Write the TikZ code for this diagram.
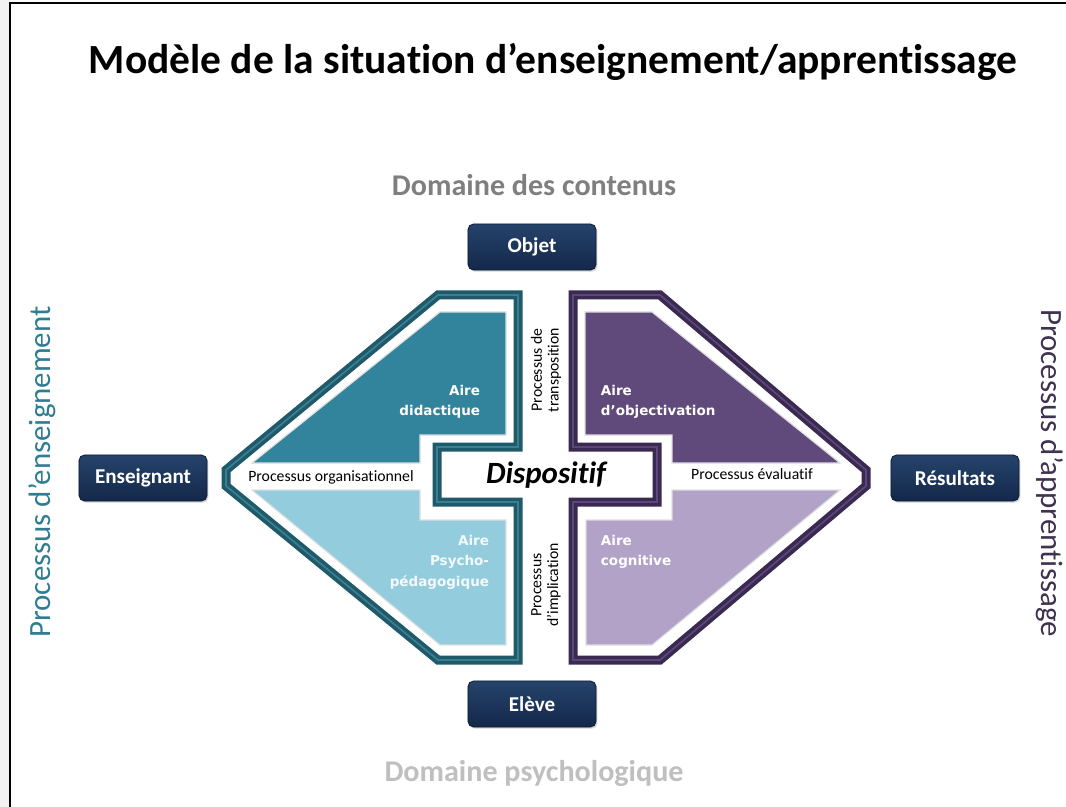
\documentclass[tikz,border=0pt]{standalone}
\usepackage{fontspec}
\setmainfont{Carlito}[Ligatures=NoCommon]
\newfontfamily\airefont{DejaVu Sans}
\usepackage{tikz}
\usetikzlibrary{shadows}
\definecolor{TealDark}{HTML}{1F5A6B}
\definecolor{TealLine}{HTML}{3B7F91}
\definecolor{TealMid}{HTML}{31849B}
\definecolor{TealLight}{HTML}{93CDDD}
\definecolor{PurpDark}{HTML}{3A2A52}
\definecolor{PurpLine}{HTML}{5B4778}
\definecolor{PurpMid}{HTML}{604A7B}
\definecolor{PurpLight}{HTML}{B3A2C7}
\definecolor{NavyTop}{HTML}{26436B}
\definecolor{NavyBot}{HTML}{13284A}
\definecolor{DomGray}{HTML}{7F7F7F}
\definecolor{DomLight}{HTML}{BFBFBF}
\definecolor{EnsText}{HTML}{2E7D93}
\definecolor{AppText}{HTML}{403151}
\tikzset{
  frameline/.style={draw=black, line width=1.4pt},
  band/.style={line width=6.4pt, line join=miter},
  bandlight/.style={line width=1.2pt, line join=miter},
  area/.style={draw=white!75!gray, line width=0.8pt},
  box/.style={rounded corners=4pt, top color=NavyTop, bottom color=NavyBot,
    draw=NavyBot!70!black, line width=0.6pt, minimum width=3.2cm,
    minimum height=1.15cm, text=white, font=\fontsize{15}{17}\selectfont\bfseries,
    drop shadow={opacity=0.35, shadow xshift=1pt, shadow yshift=-1.2pt}},
  domlabel/.style={font=\fontsize{21.4}{25}\selectfont\bfseries},
  process/.style={font=\fontsize{22}{25}\selectfont},
  small/.style={black, font=\fontsize{11.2}{12}\selectfont},
  aire/.style={font=\airefont\fontsize{9.6}{14.5}\selectfont\bfseries}
}
\begin{document}
\begin{tikzpicture}[x=0.025cm, y=-0.025cm]
  \useasboundingbox (0,0) rectangle (1066,807);
  \fill[white] (0,0) rectangle (1066,807);
  \fill[black!5] (0,0) rectangle (10,807);
  \draw[frameline] (10,807) -- (10,3) -- (1066,3);

  \coordinate (T) at (553,62);
  \coordinate (DC) at (534,185);
  \coordinate (DP) at (534,773);
  \coordinate (O) at (532,247);
  \coordinate (E) at (143,478);
  \coordinate (R) at (955,478);
  \coordinate (L) at (532,704);
  \coordinate (D) at (546,475);

  \node[font=\fontsize{29.5}{33}\selectfont\bfseries] (title) at (T) {Modèle de la situation d’enseignement/apprentissage};
  \node[domlabel, DomGray] (contenus) at (DC) {Domaine des contenus};
  \node[domlabel, DomLight] (psycho) at (DP) {Domaine psychologique};
  \node[process, EnsText, rotate=90] (enseignement) at (42,472) {Processus d’enseignement};
  \node[process, AppText, rotate=-90] (apprentissage) at (1050,473) {Processus d’apprentissage};

  \fill[TealMid, area] (440,312) -- (506,312) -- (506,435) -- (420,435) -- (420,463) -- (252,463) -- cycle;
  \fill[TealLight, area] (252,490) -- (420,490) -- (420,520) -- (506,520) -- (506,645) -- (440,645) -- cycle;
  \fill[PurpMid, area] (585,312) -- (652,312) -- (840,463) -- (672,463) -- (672,435) -- (585,435) -- cycle;
  \fill[PurpLight, area] (672,490) -- (840,490) -- (652,645) -- (586,645) -- (586,520) -- (672,520) -- cycle;

  \draw[band, TealDark] (438,295) -- (518,295) -- (518,447) -- (437,447) -- (437,502) -- (518,502) -- (518,660) -- (438,660) -- (226,486) -- (226,470) -- cycle;
  \draw[bandlight, TealLine] (438,295) -- (518,295) -- (518,447) -- (437,447) -- (437,502) -- (518,502) -- (518,660) -- (438,660) -- (226,486) -- (226,470) -- cycle;
  \draw[band, PurpDark] (573,295) -- (660,295) -- (866,470) -- (866,486) -- (660,660) -- (573,660) -- (573,502) -- (657,502) -- (657,447) -- (573,447) -- cycle;
  \draw[bandlight, PurpLine] (573,295) -- (660,295) -- (866,470) -- (866,486) -- (660,660) -- (573,660) -- (573,502) -- (657,502) -- (657,447) -- (573,447) -- cycle;

  \node[box] (objet) at (O) {Objet};
  \node[box] (enseignant) at (E) {Enseignant};
  \node[box] (resultats) at (R) {Résultats};
  \node[box] (eleve) at (L) {Elève};

  \node[font=\fontsize{22}{25}\selectfont\bfseries\itshape] (dispositif) at (D) {Dispositif};
  \node[small] (organisationnel) at (331,477) {Processus organisationnel};
  \node[small] (evaluatif) at (752,474) {Processus évaluatif};
  \node[small, rotate=90, align=center] (transposition) at (546,370) {Processus de\\transposition};
  \node[small, rotate=90, align=center] (implication) at (546,585) {Processus\\d’implication};

  \node[aire, white, align=right, anchor=east] (didactique) at (485,402) {Aire\\didactique};
  \node[aire, white!90!TealLight, align=right, anchor=east] (pedagogique) at (494,562) {Aire\\Psycho-\\pédagogique};
  \node[aire, white, align=left, anchor=west] (objectivation) at (596,402) {Aire\\d’objectivation};
  \node[aire, white, align=left, anchor=west] (cognitive) at (596,552) {Aire\\cognitive};
\end{tikzpicture}
\end{document}
